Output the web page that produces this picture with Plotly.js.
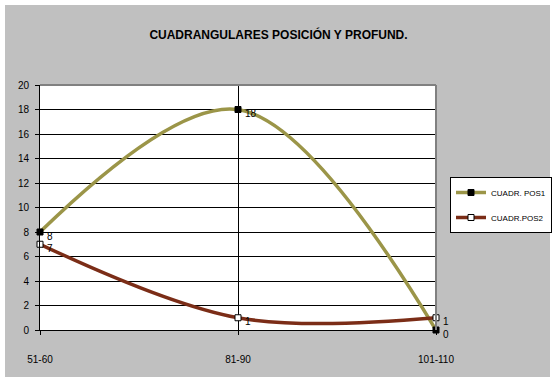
<!DOCTYPE html>
<html><head><meta charset="utf-8">
<script src="https://cdn.plot.ly/plotly-3.0.1.min.js"></script>
<style>html,body{margin:0;padding:0;background:#fff}</style>
</head><body>
<div id="chart" style="width:557px;height:384px"></div>
<script>
const categories = ["51-60", "81-90", "101-110"];
const pos1 = [8, 18, 0];
const pos2 = [7, 1, 1];
const seriesNames = ["CUADR. POS1", "CUADR.POS2"];
const yTicks = [0, 2, 4, 6, 8, 10, 12, 14, 16, 18, 20];

const traces = [
  {x: categories, y: pos1, name: seriesNames[0], type: "scatter", mode: "lines+markers",
   legendgroup: "a",
   line: {shape: "spline", smoothing: 1, color: "#9b9548", width: 3.5},
   marker: {symbol: "square", size: 6, color: "#000", line: {color: "#000", width: 1}},
   cliponaxis: false},
  {x: categories, y: pos2, name: seriesNames[1], type: "scatter", mode: "lines+markers",
   legendgroup: "b",
   line: {shape: "spline", smoothing: 1, color: "#7b2d17", width: 3.5},
   marker: {symbol: "square", size: 6, color: "#fff", line: {color: "#000", width: 1}},
   cliponaxis: false}
];

const labelFont = {family: "Liberation Sans, Arial", size: 10, color: "#000"};
const annotations = [];
[pos1, pos2].forEach(function (vals) {
  vals.forEach(function (v, i) {
    annotations.push({x: categories[i], y: v, xref: "x", yref: "y", text: String(v),
      showarrow: false, xanchor: "left", yanchor: "middle", xshift: 5, yshift: -4,
      font: labelFont});
  });
});

const layout = {
  width: 557, height: 384,
  paper_bgcolor: "#ffffff", plot_bgcolor: "#ffffff",
  margin: {l: 40, r: 121, t: 85, b: 54, autoexpand: false},
  showlegend: true,
  font: {family: "Liberation Sans, Arial", size: 10, color: "#000"},
  title: {text: "<b>CUADRANGULARES POSICIÓN Y PROFUND.</b>",
          font: {family: "Liberation Sans, Arial", size: 12, color: "#000"},
          x: 0.5, xanchor: "center", xref: "container", y: 1 - 35/384, yanchor: "middle"},
  xaxis: {type: "category", range: [0, 2], showline: true, linecolor: "#000", linewidth: 1,
          showgrid: true, gridcolor: "#000", gridwidth: 1, zeroline: false,
          ticks: "outside", ticklen: 4, tickcolor: "#000", ticklabelstandoff: 16,
          tickfont: {size: 10}, fixedrange: true},
  yaxis: {range: [0, 20], tickvals: yTicks, showline: true, linecolor: "#000", linewidth: 1,
          showgrid: true, gridcolor: "#000", gridwidth: 1, zeroline: false,
          ticks: "outside", ticklen: 4, tickcolor: "#000", ticklabelstandoff: 4,
          tickfont: {size: 10}, fixedrange: true},
  legend: {x: (450-40)/396, xanchor: "left", y: (330-177)/245, yanchor: "top",
           bgcolor: "#fff", bordercolor: "#000", borderwidth: 1,
           font: {family: "Liberation Sans, Arial", size: 8, color: "#000"},
           itemwidth: 30, tracegroupgap: 6},
  annotations: annotations,
  shapes: [
    {type: "rect", xref: "paper", yref: "paper", layer: "below",
     x0: -35/396, x1: 510/396, y0: -47/245, y1: 1 + 80/245,
     fillcolor: "#c0c0c0", line: {width: 0}},
    {type: "rect", xref: "paper", yref: "paper", layer: "below",
     x0: 0, x1: 1, y0: 0, y1: 1, fillcolor: "#fff", line: {width: 0}},
    {type: "line", xref: "paper", yref: "paper", x0: 0, x1: 1, y0: 1, y1: 1,
     line: {color: "#808080", width: 2}},
    {type: "line", xref: "paper", yref: "paper", x0: 1, x1: 1, y0: 0, y1: 1,
     line: {color: "#808080", width: 2}}
  ]
};
Plotly.newPlot("chart", traces, layout, {staticPlot: true, displayModeBar: false});
</script>
</body></html>
